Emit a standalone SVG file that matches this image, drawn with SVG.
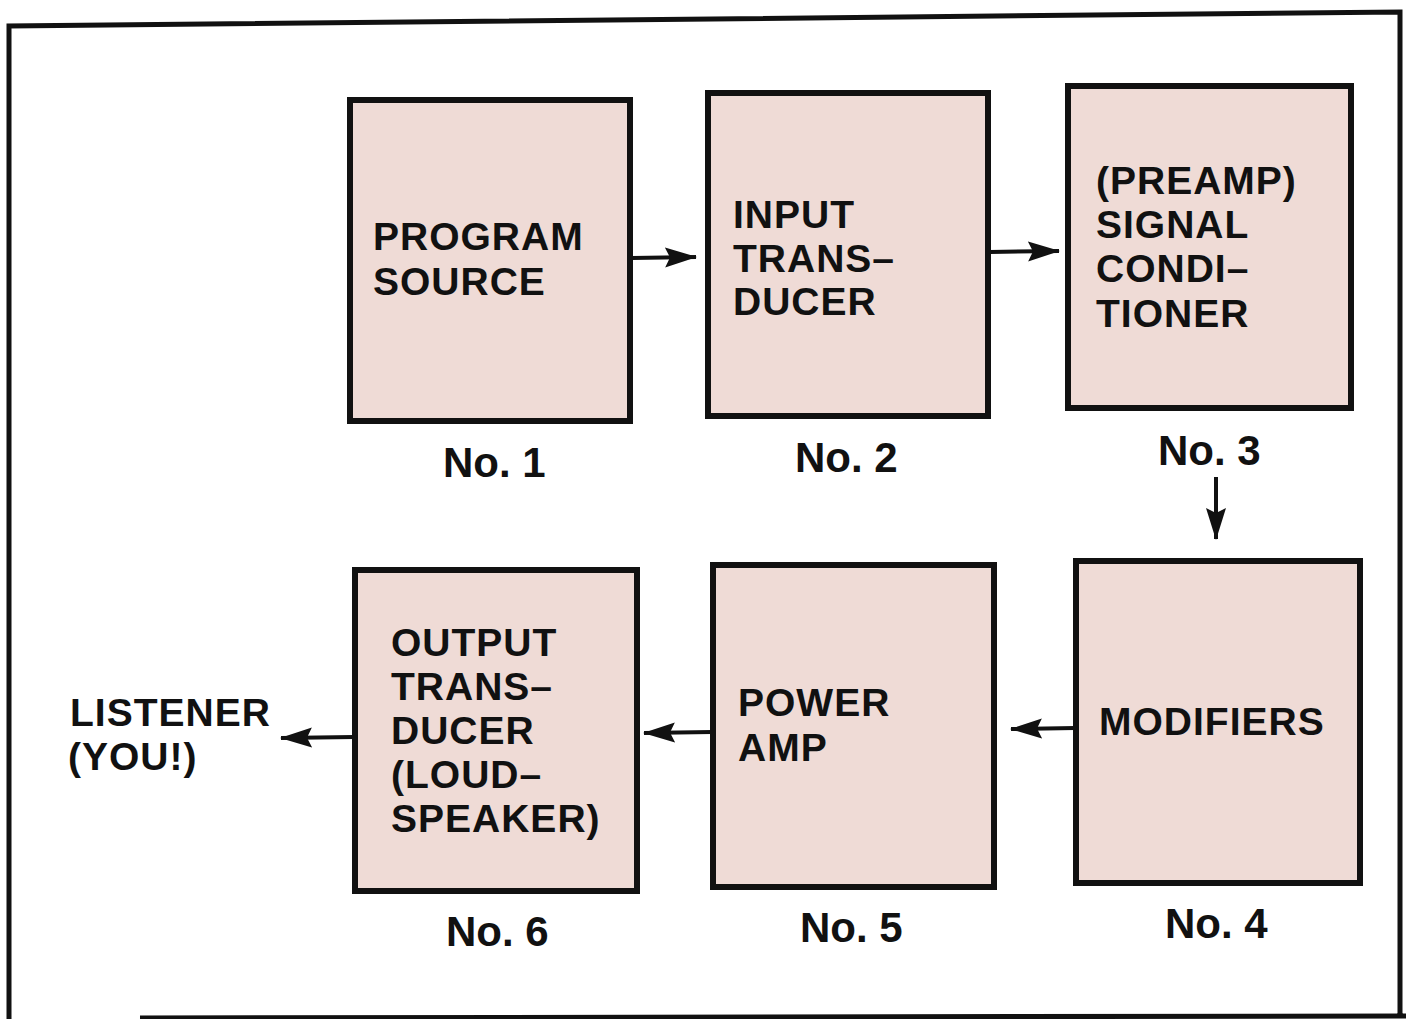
<svg xmlns="http://www.w3.org/2000/svg" width="1406" height="1019" viewBox="0 0 1406 1019">
<style>
.box{fill:#efdbd6;stroke:#111;stroke-width:6}
.t{font-family:"Liberation Sans",Arial,sans-serif;font-weight:bold;font-size:39px;fill:#111;letter-spacing:1px}
.n{font-family:"Liberation Sans",Arial,sans-serif;font-weight:bold;font-size:42px;fill:#111}
.c{stroke:#111;stroke-width:4;fill:none}
.frame{stroke:#111;stroke-width:5;fill:none}
</style>
<defs>
<marker id="ah" viewBox="0 0 32 22" refX="31" refY="11" markerWidth="32" markerHeight="22" markerUnits="userSpaceOnUse" orient="auto">
<path d="M0,1 L32,11 L0,21 L5,11 Z" fill="#111"/>
</marker>
</defs>
<rect width="1406" height="1019" fill="#fff"/>
<path class="frame" d="M9,1019 L9,26 L1400,12 L1400,1017 M140,1018 L1406,1016"/>
<g id="n1"><rect class="box" x="350" y="100" width="280" height="321"/>
<text class="t" x="373" y="250">PROGRAM</text><text class="t" x="373" y="295">SOURCE</text>
<text class="n" x="443" y="477">No. 1</text></g>
<g id="n2"><rect class="box" x="708" y="93" width="280" height="323"/>
<text class="t" x="733" y="228">INPUT</text><text class="t" x="733" y="272">TRANS–</text><text class="t" x="733" y="315">DUCER</text>
<text class="n" x="795" y="472">No. 2</text></g>
<g id="n3"><rect class="box" x="1068" y="86" width="283" height="322"/>
<text class="t" x="1096" y="194">(PREAMP)</text><text class="t" x="1096" y="238">SIGNAL</text><text class="t" x="1096" y="282">CONDI–</text><text class="t" x="1096" y="327">TIONER</text>
<text class="n" x="1158" y="465">No. 3</text></g>
<g id="n4"><rect class="box" x="1076" y="561" width="284" height="322"/>
<text class="t" x="1099" y="735">MODIFIERS</text>
<text class="n" x="1165" y="938">No. 4</text></g>
<g id="n5"><rect class="box" x="713" y="565" width="281" height="322"/>
<text class="t" x="738" y="716">POWER</text><text class="t" x="738" y="761">AMP</text>
<text class="n" x="800" y="942">No. 5</text></g>
<g id="n6"><rect class="box" x="355" y="570" width="282" height="321"/>
<text class="t" x="391" y="656">OUTPUT</text><text class="t" x="391" y="700">TRANS–</text><text class="t" x="391" y="744">DUCER</text><text class="t" x="391" y="788">(LOUD–</text><text class="t" x="391" y="832">SPEAKER)</text>
<text class="n" x="446" y="946">No. 6</text></g>
<g id="listener"><text class="t" x="70" y="726">LISTENER</text><text class="t" x="68" y="770">(YOU!)</text></g>
<g id="connectors">
<line class="c" x1="632" y1="258" x2="696" y2="257" marker-end="url(#ah)"/>
<line class="c" x1="990" y1="252" x2="1059" y2="251" marker-end="url(#ah)"/>
<line class="c" x1="1216" y1="477" x2="1216" y2="539" marker-end="url(#ah)"/>
<line class="c" x1="1075" y1="728" x2="1011" y2="729" marker-end="url(#ah)"/>
<line class="c" x1="712" y1="732" x2="644" y2="733" marker-end="url(#ah)"/>
<line class="c" x1="354" y1="737" x2="281" y2="738" marker-end="url(#ah)"/>
</g>
</svg>
